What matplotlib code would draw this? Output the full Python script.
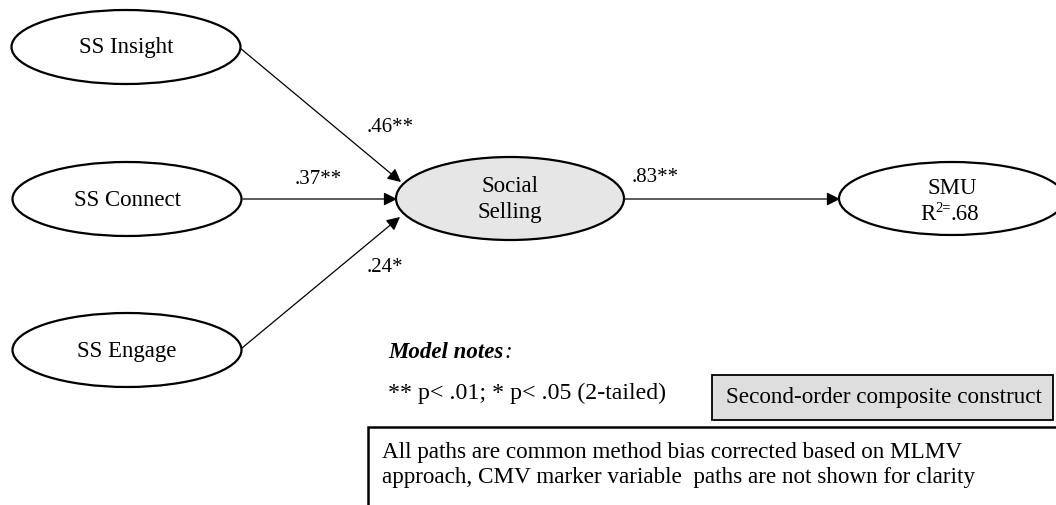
import matplotlib.pyplot as plt
from matplotlib.patches import Ellipse, Rectangle

plt.rcParams['font.family'] = ['Liberation Serif', 'DejaVu Serif']

# model content
predictors = ['SS Insight', 'SS Connect', 'SS Engage']
pred_coefs = ['.46**', '.37**', '.24*']
construct = 'Social\nSelling'
outcome = 'SMU'
outcome_r2 = ('R', '2=', '.68')
outcome_coef = '.83**'
notes_title = 'Model notes'
notes_sig = '** p< .01; * p< .05 (2-tailed)'
legend_text = 'Second-order composite construct'
footnote = ('All paths are common method bias corrected based on MLMV\n'
            'approach, CMV marker variable  paths are not shown for clarity')

# layout in pixel coords (y down)
pred_xy = [(126, 47), (127, 199), (127, 350)]
pred_wh = (229, 74)
ss_xy, ss_wh = (510, 198.5), (228, 83)
smu_xy, smu_wh = (952, 198.5), (226, 73)
arrow_start = [(240, 48), (243, 199), (242, 348)]
arrow_end = [(401, 182), (397, 199), (400, 217)]
coef_xy = [(390, 127), (318, 180), (385, 267)]

fig = plt.figure(figsize=(10.56, 5.05), dpi=100)
ax = fig.add_axes([0, 0, 1, 1])
ax.set_xlim(0, 1056)
ax.set_ylim(505, 0)
ax.axis('off')

fs = 16.5
for name, xy in zip(predictors, pred_xy):
    ax.add_patch(Ellipse(xy, pred_wh[0], pred_wh[1], fc='white', ec='black', lw=1.6))
    ax.text(xy[0], xy[1] + 1, name, ha='center', va='center', fontsize=fs)

ax.add_patch(Ellipse(ss_xy, ss_wh[0], ss_wh[1], fc='#e6e6e6', ec='black', lw=1.6, zorder=3))
ax.text(ss_xy[0], ss_xy[1] + 1, construct, ha='center', va='center', fontsize=16.5,
        linespacing=1.36, zorder=4)

ax.add_patch(Ellipse(smu_xy, smu_wh[0], smu_wh[1], fc='white', ec='black', lw=1.6,
                     clip_on=False))
ax.text(smu_xy[0], 188, outcome, ha='center', va='center', fontsize=16.5)
ax.text(936, 215, outcome_r2[0], ha='right', va='center', fontsize=16.5)
ax.text(935, 208, outcome_r2[1], ha='left', va='center', fontsize=10.5)
ax.text(951, 215, outcome_r2[2], ha='left', va='center', fontsize=16.5)

arrow = dict(arrowstyle='-|>', color='black', lw=0.9, mutation_scale=20,
             shrinkA=0, shrinkB=0)
for s, e in zip(arrow_start, arrow_end):
    ax.annotate('', xy=e, xytext=s, arrowprops=arrow)
for c, xy in zip(pred_coefs, coef_xy):
    ax.text(xy[0], xy[1], c, ha='center', va='center', fontsize=15)

ax.annotate('', xy=(840, 199), xytext=(624, 199), arrowprops=arrow)
ax.text(655, 178, outcome_coef, ha='center', va='center', fontsize=15)

# notes
title = ax.text(388, 353, notes_title, fontsize=16.5, fontweight='bold',
                fontstyle='italic', va='center', ha='left')
ax.annotate(':', xy=(1, 0.5), xycoords=title, xytext=(1, 0), textcoords='offset points',
            fontsize=16.5, fontstyle='italic', va='center', ha='left')
ax.text(388, 393, notes_sig, fontsize=17.2, va='center', ha='left')

ax.add_patch(Rectangle((712, 375), 341, 45, fc='#dedede', ec='black', lw=1.3))
ax.text(884, 398, legend_text, ha='center', va='center', fontsize=16.7)

ax.add_patch(Rectangle((368, 427), 700, 100, fc='white', ec='black', lw=1.8))
ax.text(382, 465, footnote, ha='left', va='center', fontsize=16.7, linespacing=1.26)

plt.savefig('out.png', dpi=100)
